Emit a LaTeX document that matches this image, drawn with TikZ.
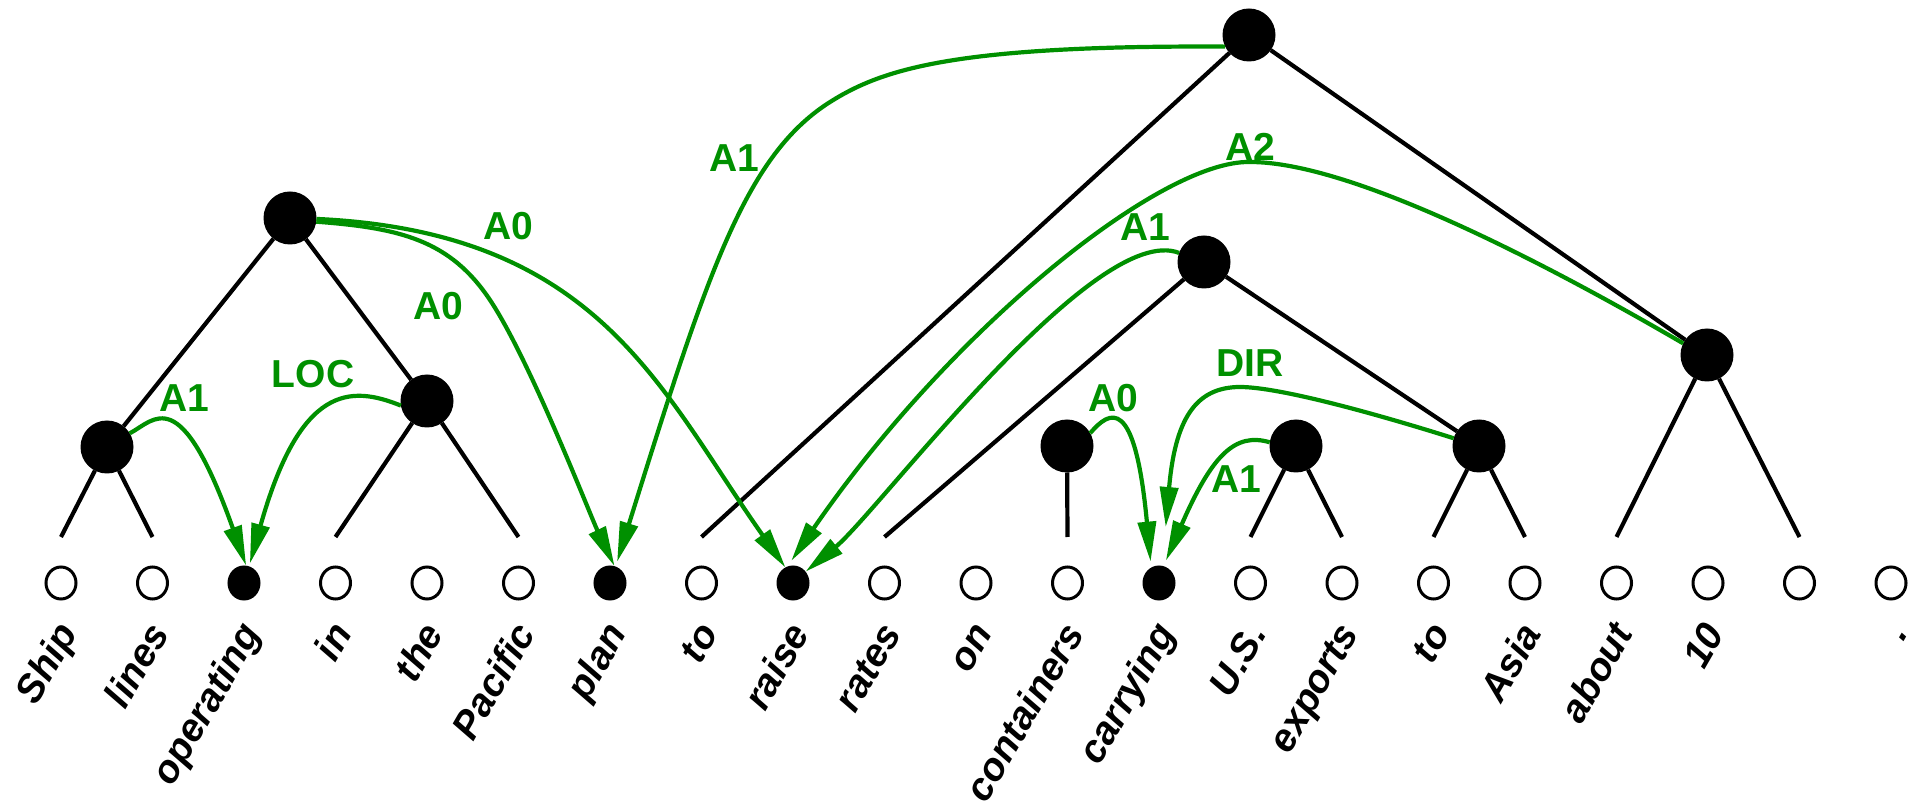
\documentclass[tikz,border=0pt]{standalone}
\usepackage{fontspec}
\setmainfont{Liberation Sans}
\usetikzlibrary{arrows.meta,shapes.geometric}
\definecolor{argcol}{RGB}{0,144,0}
\begin{document}
\begin{tikzpicture}[x=0.5pt,y=-0.5pt,
  phrase/.style={circle,fill=black,minimum size=26.5pt,inner sep=0pt,outer sep=0pt},
  leaf/.style={ellipse,draw=black,line width=1.5pt,minimum width=15pt,minimum height=16pt,inner sep=0pt},
  pred/.style={leaf,fill=black},
  word/.style={rotate=60,anchor=base east,inner sep=0pt,font=\fontsize{19.5}{19.5}\selectfont\bfseries\itshape},
  branch/.style={line width=2.1pt,black},
  arg/.style={line width=2.1pt,argcol,-{Triangle[length=20pt,width=9pt]}},
  arglabel/.style={text=argcol,inner sep=0pt,font=\fontsize{19.5}{19.5}\selectfont\bfseries}
]
\useasboundingbox (0,0) rectangle (1923,807);

% token slots along the sentence
\foreach \i in {0,1,3,4,5,7,9,10,11,13,14,15,16,17,18,19,20}
  \node[leaf] (l\i) at ({61+91.5*\i},583) {};
\foreach \i in {2,6,8,12}
  \node[pred] (l\i) at ({61+91.5*\i},583) {};
\foreach \i in {0,...,20}
  \coordinate (t\i) at ({61+91.5*\i},537);

% the words
\foreach \i/\w in {0/Ship,1/lines,2/operating,3/in,4/the,5/Pacific,6/plan,7/to,8/raise,9/rates,
                   10/on,11/containers,12/carrying,13/U.S.,14/exports,15/to,16/Asia,17/about,18/10,20/.}
  \node[word] (w\i) at ({61+91.5*\i+18},633) {\w};

% phrase nodes
\node[phrase] (nA) at (107,447) {};
\node[phrase] (nS) at (290,218) {};
\node[phrase] (nB) at (427,401) {};
\node[phrase] (nR) at (1249,35) {};
\node[phrase] (nV) at (1204,262) {};
\node[phrase] (nC) at (1067,446) {};
\node[phrase] (nU) at (1296,446) {};
\node[phrase] (nT) at (1479,446) {};
\node[phrase] (nQ) at (1707,355) {};

% tree branches
\draw[branch] (nA) -- (t0);
\draw[branch] (nA) -- (t1);
\draw[branch] (nS) -- (nA);
\draw[branch] (nS) -- (nB);
\draw[branch] (nB) -- (t3);
\draw[branch] (nB) -- (t5);
\draw[branch] (nR) -- (t7);
\draw[branch] (nR) -- (nQ);
\draw[branch] (nV) -- (t9);
\draw[branch] (nV) -- (nT);
\draw[branch] (nC) -- (t11);
\draw[branch] (nU) -- (t13);
\draw[branch] (nU) -- (t14);
\draw[branch] (nT) -- (t15);
\draw[branch] (nT) -- (t16);
\draw[branch] (nQ) -- (t17);
\draw[branch] (nQ) -- (t19);

% argument arcs
\draw[arg] (nA.31) .. controls (155,420) and (180,380) .. (l2.83);
\draw[arg,shorten >=1.5pt] (nB.190) .. controls (350,385) and (300,385) .. (l2.73);
\draw[arg] (nS.-2) .. controls (600,232) and (660,390) .. (l8.116);
\draw[arg] (nS.-8) .. controls (400,228) and (450,240) .. (490,300)
                   .. controls (530,360) and (590,515) .. (l6.75);
\draw[arg,shorten >=2.5pt] (nR.206) .. controls (950,45) and (880,70) .. (828,103.3)
                   .. controls (744.2,157.9) and (706.4,275.8) .. (l6.71);
\draw[arg,shorten >=3.5pt] (nQ.154) .. controls (1540,260) and (1350,162) .. (1250,162)
                   .. controls (1160,160) and (950,330) .. (l8.109);
\draw[arg] (nV.160) .. controls (1095,220) and (878,512) .. (l8.42);
\draw[arg,shorten >=3pt] (nC.29) .. controls (1110,410) and (1135,395) .. (l12.117);
\draw[arg,shorten >=19.5pt] (nT.163) .. controls (1380,415) and (1280,387) .. (1240,387)
                   .. controls (1195,387) and (1175,420) .. (l12.79);
\draw[arg,shorten >=3pt] (nU.172) .. controls (1235,432) and (1212,455) .. (l12.75);

% role labels
\node[arglabel] (lbA1a) at (184.5,398) {A1};
\node[arglabel] (lbLOC) at (313,374.5) {LOC};
\node[arglabel] (lbA0a) at (508,226) {A0};
\node[arglabel] (lbA0b) at (438.6,306) {A0};
\node[arglabel] (lbA1b) at (734,158) {A1};
\node[arglabel] (lbA2) at (1250,147) {A2};
\node[arglabel] (lbA1c) at (1145,227) {A1};
\node[arglabel] (lbDIR) at (1250,363.5) {DIR};
\node[arglabel] (lbA0c) at (1113,398) {A0};
\node[arglabel] (lbA1d) at (1236.5,479) {A1};
\end{tikzpicture}
\end{document}
